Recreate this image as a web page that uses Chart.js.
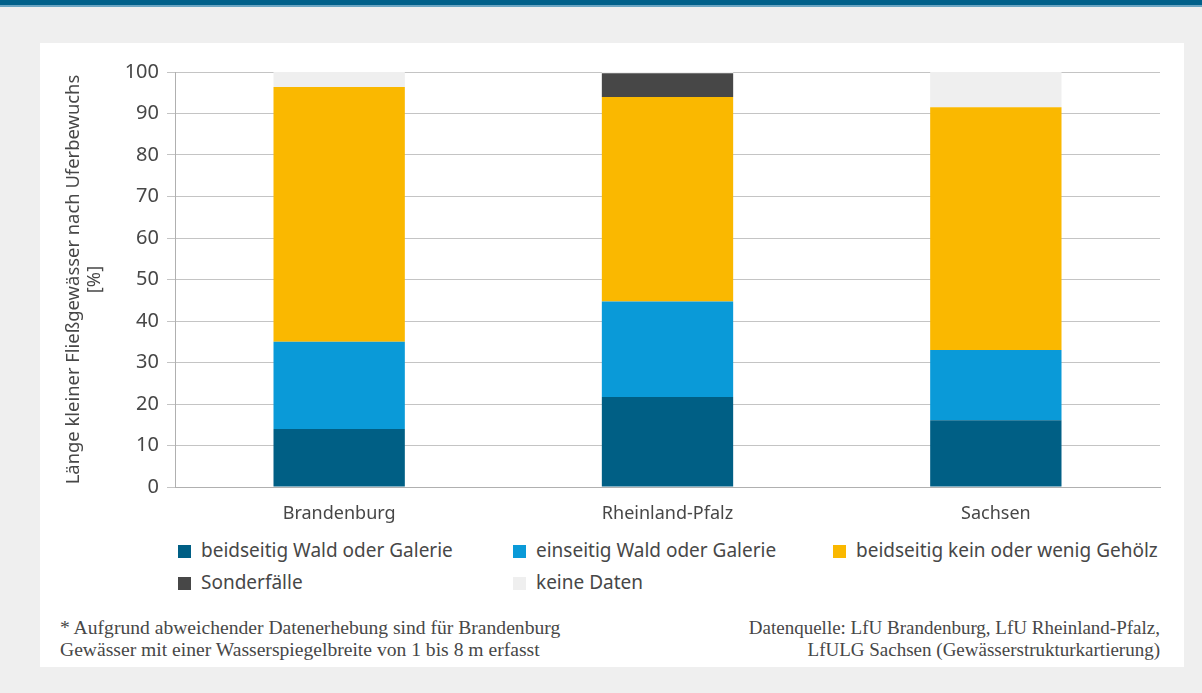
<!DOCTYPE html>
<html>
<head>
<meta charset="utf-8">
<script src="https://cdn.jsdelivr.net/npm/chart.js@4"></script>
<style>
  html, body { margin: 0; padding: 0; }
  body { width: 1202px; height: 693px; background: #efefef; position: relative; overflow: hidden; font-family: "Noto Sans", "Open Sans", sans-serif; }
  #topbar { position: absolute; left: 0; top: 0; width: 1202px; height: 5px; background: #00608a; }
  #topbar2 { position: absolute; left: 0; top: 5px; width: 1202px; height: 2px; background: #6aa4c2; }
  #panel { position: absolute; left: 40px; top: 43px; width: 1144px; height: 624px; background: #ffffff; }
  #wrap { position: absolute; left: 40px; top: 43px; width: 1144px; height: 490px; }
  #legend { position: absolute; left: 178px; top: 537px; width: 1000px; }
  .item { position: absolute; font-size: 19px; color: #474747; white-space: nowrap; line-height: 26px; }
  .sw { display: inline-block; width: 13px; height: 13px; margin-right: 10px; vertical-align: -1px; }
  .foot { position: absolute; font-family: "Liberation Serif", "DejaVu Serif", serif; font-size: 19px; color: #474747; line-height: 22px; white-space: nowrap; }
</style>
</head>
<body>
<div id="topbar"></div>
<div id="topbar2"></div>
<div id="panel"></div>
<div id="wrap"><canvas id="c"></canvas></div>
<div id="legend"></div>
<div class="foot" style="left:60px; top:617px; font-size:19.6px;">* Aufgrund abweichender Datenerhebung sind für Brandenburg<br>Gewässer mit einer Wasserspiegelbreite von 1 bis 8 m erfasst</div>
<div class="foot" style="right:42px; top:617px; text-align:right;">Datenquelle: LfU Brandenburg, LfU Rheinland-Pfalz,<br>LfULG Sachsen (Gewässerstrukturkartierung)</div>
<script>
const categories = ["Brandenburg", "Rheinland-Pfalz", "Sachsen"];
const seriesNames = ["beidseitig Wald oder Galerie", "einseitig Wald oder Galerie", "beidseitig kein oder wenig Gehölz", "Sonderfälle", "keine Daten"];
const beidseitigWald = [14.0, 21.7, 16.1];
const einseitigWald = [21.0, 23.0, 16.9];
const keinGehoelz = [61.4, 49.3, 58.5];
const sonderfaelle = [0, 5.7, 0];
const keineDaten = [3.6, 0.3, 8.5];
const yTicks = [0, 10, 20, 30, 40, 50, 60, 70, 80, 90, 100];
const colors = ["#005f85", "#0a9ad8", "#fab800", "#474747", "#efefef"];

const seriesData = [beidseitigWald, einseitigWald, keinGehoelz, sonderfaelle, keineDaten];
const datasets = seriesNames.map((n, i) => ({
  label: n,
  data: seriesData[i],
  backgroundColor: colors[i],
  borderWidth: 0,
  categoryPercentage: 1.0,
  barPercentage: 0.4
}));

new Chart(document.getElementById('c'), {
  type: 'bar',
  data: { labels: categories, datasets },
  options: {
    responsive: true,
    maintainAspectRatio: false,
    animation: false,
    layout: { padding: { top: 29, right: 24, left: 24, bottom: 0 } },
    plugins: { legend: { display: false }, tooltip: { enabled: false } },
    scales: {
      x: {
        stacked: true,
        grid: { display: false },
        border: { display: true, color: '#b0b0b0', width: 1 },
        ticks: { color: '#474747', font: { family: 'Noto Sans', size: 18 }, padding: 8 },
        afterFit: s => { s.height = 46; }
      },
      y: {
        stacked: true,
        min: 0, max: 100,
        afterBuildTicks: s => { s.ticks = yTicks.map(v => ({ value: v })); },
        grid: { color: '#c4c4c4', lineWidth: 1, drawTicks: true, tickLength: 8 },
        border: { display: true, color: '#b0b0b0' },
        ticks: { color: '#474747', font: { family: 'Noto Sans', size: 20 }, padding: 8 },
        title: {
          display: true,
          text: ["Länge kleiner Fließgewässer nach Uferbewuchs", "[%]"],
          color: '#474747',
          font: { family: 'Noto Sans', size: 18.4, lineHeight: 1.1 },
          padding: { top: 0, bottom: 4 }
        },
        afterFit: s => { s.width = 111; }
      }
    }
  }
});

const legend = document.getElementById('legend');
const pos = [[0, 0], [335, 0], [655, 0], [0, 32], [335, 32]];
seriesNames.forEach((n, i) => {
  const d = document.createElement('div');
  d.className = 'item';
  d.style.left = pos[i][0] + 'px';
  d.style.top = pos[i][1] + 'px';
  d.innerHTML = '<span class="sw" style="background:' + colors[i] + '"></span>' + n;
  legend.appendChild(d);
});
</script>
</body>
</html>
